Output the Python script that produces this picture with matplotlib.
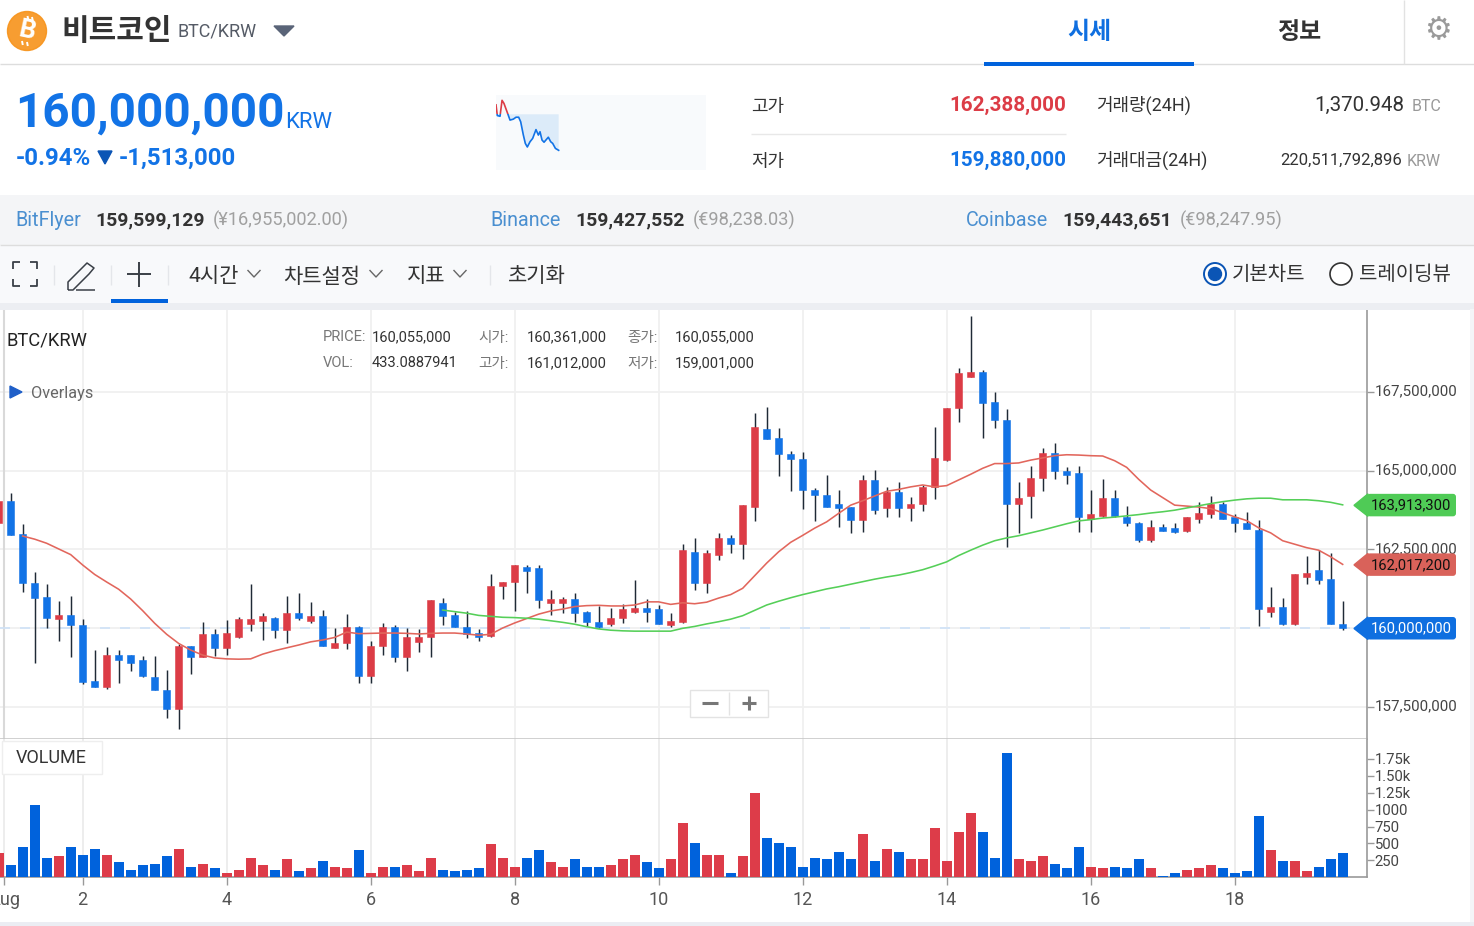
import matplotlib
matplotlib.use("Agg")
import matplotlib.pyplot as plt
from matplotlib.patches import Rectangle, Circle, Polygon, FancyBboxPatch
from matplotlib.transforms import ScaledTranslation

plt.rcParams['font.family'] = ['Roboto', 'Noto Sans CJK KR', 'DejaVu Sans']

# ---------- data (millions of KRW, 4h candles) ----------
opens = [163.32,164.04,162.98,161.42,160.98,160.28,160.41,160.09,158.32,158.13,159.13,159.13,158.98,158.45,158.03,157.42,159.42,159.09,159.80,159.37,
159.70,160.14,160.22,160.32,159.95,160.47,160.22,160.37,159.37,159.51,160.03,158.47,159.42,160.03,159.09,159.57,159.70,160.79,160.41,160.03,
159.83,159.74,161.32,161.46,161.94,161.90,160.79,160.79,160.93,160.51,160.18,160.13,160.32,160.51,160.64,160.60,160.09,160.18,162.41,161.42,
162.33,162.85,162.66,163.85,166.32,166.03,165.51,165.37,164.37,164.22,163.94,163.84,163.42,164.70,163.80,164.32,163.80,163.94,164.47,165.32,
166.98,167.98,168.13,167.17,166.60,163.95,164.18,164.75,165.55,164.98,164.93,163.46,163.56,164.13,163.51,163.32,162.79,163.22,163.17,163.08,
163.46,163.61,163.94,163.51,163.32,163.12,160.52,160.66,160.13,161.61,161.84,161.56,160.13]
highs = [164.04,164.30,163.30,161.77,161.39,160.87,161.01,160.29,159.30,159.39,159.30,159.14,159.10,159.10,158.67,159.49,159.42,160.20,159.97,160.24,
160.35,161.39,160.49,160.34,161.01,161.10,160.82,160.57,160.01,160.43,160.06,159.58,160.15,160.10,160.01,159.96,160.89,160.96,160.51,160.54,
159.97,161.72,161.47,162.00,162.01,162.01,161.20,160.97,161.10,160.54,160.71,160.63,160.77,161.53,160.91,160.72,160.49,162.67,162.86,162.48,
163.01,162.95,163.90,166.82,167.02,166.34,165.63,165.58,164.43,164.87,164.38,163.85,164.86,165.01,164.47,164.63,164.15,164.54,166.39,166.98,
168.24,169.91,168.19,167.48,166.95,164.63,165.14,165.72,165.86,165.10,165.14,164.38,164.72,164.38,163.86,163.37,163.43,163.29,163.34,163.51,
164.01,164.19,164.01,163.62,163.67,163.43,161.29,160.95,161.70,162.29,162.48,162.39,160.86]
lows = [163.32,162.95,161.15,158.88,160.01,159.59,159.07,158.21,158.13,158.05,158.24,158.63,158.45,158.03,157.15,156.78,158.54,159.07,159.11,159.15,
159.67,159.91,159.63,159.67,159.53,160.25,160.17,159.42,159.37,159.34,158.26,158.26,159.15,158.91,158.63,159.25,159.07,160.10,160.03,159.68,
159.59,159.72,160.91,160.54,161.11,160.63,160.40,160.49,160.20,160.06,160.00,160.06,160.16,160.49,160.20,160.13,160.04,160.17,161.21,161.11,
162.16,162.39,162.20,163.40,165.99,164.83,164.35,163.78,163.40,163.85,163.21,163.02,163.06,163.63,163.53,163.53,163.40,163.72,164.10,165.30,
166.54,167.98,166.02,166.35,162.58,163.02,163.49,164.35,164.73,164.58,163.06,163.06,163.53,163.53,163.25,162.74,162.73,163.08,163.02,163.06,
163.34,163.48,163.46,163.06,163.13,160.06,160.35,160.10,160.10,161.40,161.40,160.13,159.93]
closes = [164.04,162.95,161.43,160.94,160.33,160.41,160.09,158.28,158.13,159.13,158.98,158.90,158.47,158.03,157.42,159.42,159.09,159.80,159.37,159.84,
160.28,160.28,160.37,159.95,160.47,160.32,160.37,159.42,159.51,160.03,158.47,159.42,160.03,159.09,159.70,159.70,160.89,160.37,160.03,159.81,
159.71,161.32,161.46,161.99,161.80,160.90,160.93,160.93,160.47,160.18,160.02,160.32,160.60,160.64,160.51,160.13,160.22,162.47,161.42,162.37,
162.85,162.66,163.90,166.37,165.99,165.51,165.37,164.37,164.22,163.85,163.80,163.42,164.70,163.76,164.32,163.80,163.94,164.47,165.41,166.98,
168.09,168.13,167.13,166.61,163.95,164.13,164.75,165.55,164.98,164.85,163.52,163.61,164.13,163.56,163.32,162.79,163.22,163.08,163.04,163.51,
163.65,163.94,163.46,163.32,163.13,160.61,160.66,160.13,161.70,161.75,161.51,160.14,160.00]
volumes = [355,177,444,1065,286,310,444,330,419,330,222,108,177,197,310,419,153,197,133,64,
108,286,177,108,266,89,133,242,153,133,399,64,153,153,177,89,286,108,89,108,
133,488,286,153,286,399,222,153,266,153,153,177,266,330,222,133,266,799,508,330,
330,64,310,1242,577,508,444,153,286,266,375,266,641,242,419,375,266,266,730,242,
666,951,666,286,1839,266,242,310,197,133,444,153,133,153,133,266,133,20,64,108,
133,177,133,64,89,907,399,242,242,89,153,266,355]
ma_short = [162.92,162.82,162.69,162.51,162.33,162.00,161.70,161.46,161.23,160.92,160.55,160.15,159.80,159.51,159.30,159.14,159.05,159.02,159.01,159.02,
159.17,159.28,159.37,159.46,159.56,159.62,159.70,159.87,159.82,159.83,159.84,159.84,159.83,159.81,159.83,159.84,159.84,159.81,159.77,159.80,
160.00,160.16,160.30,160.44,160.54,160.60,160.68,160.71,160.72,160.70,160.70,160.73,160.83,160.83,160.75,160.80,160.77,160.82,160.95,161.06,
161.26,161.66,162.06,162.42,162.72,162.94,163.17,163.37,163.64,163.90,164.04,164.19,164.34,164.40,164.48,164.54,164.48,164.52,164.70,164.88,
165.07,165.22,165.22,165.24,165.33,165.40,165.47,165.50,165.49,165.47,165.46,165.31,165.10,164.72,164.38,164.14,163.90,163.87,163.84,163.79,
163.66,163.53,163.41,163.18,163.02,162.77,162.66,162.55,162.47,162.26,162.02]
ma_long = [160.57,160.52,160.47,160.40,160.37,160.34,160.33,160.31,160.28,160.23,160.18,160.12,160.04,159.97,159.93,159.91,159.90,159.90,159.90,159.90,
159.99,160.05,160.13,160.20,160.28,160.39,160.56,160.73,160.85,160.96,161.06,161.15,161.24,161.31,161.39,161.47,161.55,161.62,161.68,161.76,
161.85,161.97,162.10,162.30,162.47,162.63,162.77,162.86,162.93,163.02,163.11,163.21,163.31,163.40,163.44,163.49,163.52,163.56,163.60,163.65,
163.69,163.74,163.81,163.88,163.95,164.01,164.06,164.10,164.12,164.12,164.07,164.07,164.07,164.04,163.99,163.91]
price_ticks = [157.5,160.0,162.5,165.0,167.5]
price_labels = ['157,500,000','','162,500,000','165,000,000','167,500,000']   # the 160M label sits under the last-price tag
vol_ticks = [250,500,750,1000,1250,1500,1750]
vol_labels = ['250','500','750','1000','1.25k','1.50k','1.75k']
day_ticks = [0.914,2,4,6,8,10,12,14,16,18]
day_labels = ['Aug','2','4','6','8','10','12','14','16','18']
spark_hours = [0,0.15,0.46,0.69,0.91,1.37,1.6,1.98,2.29,2.59,2.82,3.12,3.35,3.58,3.89,4.19,4.57,4.84,5.03,5.26,5.49,5.98,6.25,6.48,6.79,7.16]
spark_prices = [161.91,161.46,161.43,162.10,161.97,161.51,161.27,161.31,161.39,161.39,161.20,160.65,160.29,160.14,160.36,160.50,160.87,160.64,160.78,160.43,160.34,160.55,160.36,160.29,160.08,160.00]
spark_open = 161.513

BLUE = '#1273e6'; RED = '#dc3c46'; BBAR = '#0062dc'; RBAR = '#dd3c49'
W, H = 1474, 926
fig = plt.figure(figsize=(W/100, H/100), dpi=100, facecolor='white')

def pane(l, t, r, b, **kw):
    return fig.add_axes([l/W, 1-b/H, (r-l)/W, (b-t)/H], **kw)

days = [2 + (i - 7) / 6 for i in range(len(opens))]
day_of = lambda px: 2 + (px - 82.67) / 72

# ---------- price pane ----------
ax = pane(0, 310, 1367, 738.5)
ax.set_xlim(day_of(0), day_of(1367))
ax.set_ylim(160 + (628 - 738.5) / 31.5, 160 + (628 - 310) / 31.5)
cols = [RED if c >= o else BLUE for o, c in zip(opens, closes)]
ax.vlines(days, lows, highs, color='#1f2a36', lw=1.05, zorder=3)
ax.bar(days, [abs(c - o) for o, c in zip(opens, closes)], bottom=[min(o, c) for o, c in zip(opens, closes)],
       width=0.1, color=cols, edgecolor=cols, linewidth=0.4, zorder=4)
ax.plot(days[2:], ma_short, color='#e2665c', lw=1.15, zorder=5)
ax.plot(days[37:], ma_long, color='#55cf58', lw=1.15, zorder=5)
ax.axhline(closes[-1], color='#cfe2f8', lw=1.2, ls=(0, (6, 6)), zorder=2)
ax.set_yticks(price_ticks)
ax.set_yticklabels(price_labels)
ax.set_xticks(day_ticks)
ax.tick_params(axis='x', length=0, labelbottom=False)
ax.yaxis.tick_right()
ax.tick_params(axis='y', length=5, width=1, color='#999999', labelcolor='#444444', labelsize=10.9, pad=0.8)
for lab in ax.get_yticklabels():
    lab.set_transform(lab.get_transform() + ScaledTranslation(0, 1.7 / 72 * 0.72, fig.dpi_scale_trans))
ax.grid(True, color='#f0f0f0', lw=1.3, zorder=0)
ax.set_axisbelow(True)
for s in ['top', 'left']:
    ax.spines[s].set_visible(False)
ax.spines['right'].set_color('#9a9a9a'); ax.spines['right'].set_linewidth(1.2)
ax.spines['bottom'].set_color('#c8c8c8'); ax.spines['bottom'].set_linewidth(1.2)
ax.axvline(day_ticks[0], color='#d9d9d9', lw=1.5, zorder=1)

# ---------- volume pane ----------
av = pane(0, 739, 1367, 877.3)
av.set_xlim(ax.get_xlim())
av.set_ylim(0, 138.3 * 14.79)
av.bar(days, volumes, width=0.14, color=[RBAR if c == RED else BBAR for c in cols], zorder=3)
av.set_yticks(vol_ticks); av.set_yticklabels(vol_labels)
av.yaxis.tick_right()
av.tick_params(axis='y', length=5, width=1, color='#999999', labelcolor='#444444', labelsize=10.7, pad=0.5)
av.set_xticks(day_ticks); av.set_xticklabels(day_labels)
av.tick_params(axis='x', length=6, width=1, color='#999999', labelcolor='#555555', labelsize=13, pad=4)
av.grid(True, axis='x', color='#ececec', lw=1.3, zorder=0)
av.set_axisbelow(True)
for s in ['top', 'left']:
    av.spines[s].set_visible(False)
av.spines['right'].set_color('#9a9a9a'); av.spines['right'].set_linewidth(1.2)
av.spines['bottom'].set_color('#9a9a9a'); av.spines['bottom'].set_linewidth(1.2)

# ---------- overlay in pixels ----------
ov = fig.add_axes([0, 0, 1, 1], zorder=10)
ov.set_xlim(0, W); ov.set_ylim(H, 0); ov.axis('off'); ov.patch.set_alpha(0)

def T(x, y, s, px, color='#333333', ha='left', weight='normal', **kw):
    hangul = any('\uac00' <= ch <= '\ud7a3' for ch in s)
    y = y + px * (0.14 if hangul else 0.05)
    return ov.text(x, y, s, fontsize=px * 0.72, color=color, ha=ha, va='center', fontweight=weight, **kw)
def R(x, y, w, h, color, **kw):
    ov.add_patch(Rectangle((x, y), w, h, facecolor=color, edgecolor='none', **kw))
def L(xs, ys, color='#444444', lw=1.2, **kw):
    ov.plot(xs, ys, color=color, lw=lw, solid_capstyle='butt', **kw)

# backgrounds
R(0, 195, W, 50, '#f4f5f7')
R(0, 246, W, 57, '#f8f9fb')
R(0, 303, W, 6.5, '#eceef2')
R(0, 922, W, 4, '#ebedf3')
R(1470, 309, 4, 613, '#f4f5f8')
L([0, W], [64, 64], '#dddddd', 1)
L([0, W], [245, 245], '#dddddd', 1)
L([1404.5, 1404.5], [0, 64], '#e2e2e2', 1)

# header
ov.add_patch(Circle((27, 31), 19.5, color='#f7931a', alpha=0.9))
T(27, 30, 'B', 26, 'white', ha='center', weight='bold', rotation=-12)
for dx, dy in [(0.5, -13), (5, -12), (-5, 12), (0, 13)]:
    L([27 + dx, 27 + dx + 0.8], [31 + dy - 2, 31 + dy + 2], 'white', 1.4)
T(61, 28, '비트코인', 30, '#333333', weight='bold')
T(178, 30.5, 'BTC/KRW', 18, '#555b66')
ov.add_patch(Polygon([(274, 26), (294, 26), (284, 36)], color='#5a6478'))
T(1089, 29, '시세', 24, '#0f6fe0', ha='center', weight='bold')
T(1299, 29, '정보', 24, '#333333', ha='center', weight='bold')
ov.add_patch(Rectangle((984, 62), 210, 4, facecolor=BBAR, edgecolor='none', zorder=5))
T(1438, 29, '\u2699', 31, '#9a9a9a', ha='center', family='DejaVu Sans')

# price summary
T(15, 111, '160,000,000', 47.6, BLUE, weight='bold')
T(285.5, 121, 'KRW', 22, BLUE)
T(16, 157, '-0.94%', 24, BLUE, weight='bold')
ov.add_patch(Polygon([(98, 151), (112, 151), (105, 164)], color='#0b55b5'))
T(119, 157, '-1,513,000', 24, BLUE, weight='bold')

# high/low table
T(751, 104, '고가', 18, '#333333')
T(1066, 104.5, '162,388,000', 20.7, RED, ha='right', weight='bold')
L([751, 1066], [133.5, 133.5], '#e8e8e8', 1)
T(751, 159, '저가', 18, '#333333')
T(1066, 159.5, '159,880,000', 20.7, BLUE, ha='right', weight='bold')
T(1096, 103, '거래량(24H)', 18, '#333333')
T(1404, 104, '1,370.948', 20.5, '#333333', ha='right')
T(1441, 105.5, 'BTC', 16, '#999999', ha='right')
T(1096, 158, '거래대금(24H)', 18, '#333333')
T(1402, 159.5, '220,511,792,896', 16.6, '#333333', ha='right')
T(1441, 160.5, 'KRW', 16, '#999999', ha='right')

# exchanges
for x0, x1, x2, name, price, local in [(15.5, 95.5, 213, 'BitFlyer', '159,599,129', '(¥16,955,002.00)'),
                                       (490.5, 575.5, 693, 'Binance', '159,427,552', '(€98,238.03)'),
                                       (966, 1062.5, 1180, 'Coinbase', '159,443,651', '(€98,247.95)')]:
    T(x0, 219.7, name, 19.8, '#4a8fd0')
    T(x1, 219.5, price, 19.4, '#333333', weight='bold')
    T(x2, 219.7, local, 18.3, '#a0a0a0')

# toolbar icons
C = '#3a3f47'
for x, y, dx, dy in [(13, 262, 1, 1), (37, 262, -1, 1), (13, 286, 1, -1), (37, 286, -1, -1)]:
    L([x, x, x + 7 * dx], [y + 7 * dy, y, y], C, 1.3)
L([68, 68, 87, 94, 89, 73, 68], [290, 282, 263, 268, 274, 290, 290], C, 1.1)
L([76, 95], [290, 290], C, 1.1)
L([127, 151], [274, 274], C, 1.4)
L([139, 139], [262, 287], C, 1.4)
R(111, 299, 57, 4, BBAR)
for x in [54.5, 111.5, 168.5, 490.5]:
    L([x, x], [265, 285], '#e4e6ea', 1)
T(188.5, 274, '4시간', 21, '#333333')
T(283.5, 274, '차트설정', 21, '#333333')
T(406.5, 274, '지표', 21, '#333333')
T(508, 274, '초기화', 21, '#333333')
for x in [254, 376, 460]:
    L([x - 6.5, x, x + 6.5], [270, 277, 270], '#666666', 1)
ov.add_patch(Circle((1215, 274), 11, facecolor='white', edgecolor='#0b55b5', lw=1.4))
ov.add_patch(Circle((1215, 274), 6.5, color='#0b55b5'))
T(1232, 272, '기본차트', 20, '#333333')
ov.add_patch(Circle((1341, 274), 11, facecolor='white', edgecolor='#333333', lw=1.2))
T(1359, 272, '트레이딩뷰', 20, '#333333')

# chart annotations
T(7, 339.5, 'BTC/KRW', 18.4, '#222222')
ov.add_patch(Polygon([(10, 386), (22, 392), (10, 398)], color='#1f5fc8'))
T(31, 392.5, 'Overlays', 16.3, '#666666')
for x, y, s, c in [(323, 336.5, 'PRICE:', '#777777'), (372, 336.5, '160,055,000', '#333333'),
                   (478, 335.5, '시가:', '#777777'), (527, 336.5, '160,361,000', '#333333'),
                   (627, 335.5, '종가:', '#777777'), (675, 336.5, '160,055,000', '#333333'),
                   (323, 362.5, 'VOL:', '#777777'), (372, 362.5, '433.0887941', '#333333'),
                   (478, 361.5, '고가:', '#777777'), (527, 362.5, '161,012,000', '#333333'),
                   (627, 361.5, '저가:', '#777777'), (675, 362.5, '159,001,000', '#333333')]:
    T(x, y, s, 14.6, c)

# zoom buttons
ov.add_patch(Rectangle((690, 690), 78, 27, facecolor='white', edgecolor='#e3e3e3', lw=1))
L([729.5, 729.5], [692, 715], '#e3e3e3', 1)
L([702, 718], [703, 703], '#777777', 2.2)
L([742, 756], [703, 703], '#777777', 2.2)
L([749, 749], [696, 710], '#777777', 2.2)

# VOLUME label
ov.add_patch(Rectangle((2, 741), 100, 33, facecolor='white', edgecolor='#eeeeee', lw=1))
T(16, 757.5, 'VOLUME', 18, '#333333')

# last-value tags
def tag(value, color):
    y = H - ax.transData.transform((0, value))[1]
    ov.add_patch(FancyBboxPatch((1367, y - 11), 89, 22.5, boxstyle='round,pad=0,rounding_size=3', facecolor=color, edgecolor='none', zorder=20))
    ov.add_patch(Polygon([(1354, y + 0.5), (1368, y - 11), (1368, y + 11.5)], color=color, zorder=20))
    return y
for v, s, col, tc in [(ma_long[-1], '163,913,300', '#4fcb56', '#111111'),
                      (ma_short[-1], '162,017,200', '#d9625a', '#111111'),
                      (closes[-1], '160,000,000', '#0f6fe0', 'white')]:
    y = tag(v, col)
    T(1411.5, y, s, 14.8, tc, ha='center', zorder=21)

# sparkline
sp = pane(496, 95, 706, 170, zorder=11)
sp.set_facecolor('#f8fafc')
sp.set_xlim(0, 24)
sp.set_ylim(spark_open - 55.7 / 23.8, spark_open + 19.3 / 23.8)
sp.fill_between(spark_hours, spark_prices, spark_open, where=[v <= spark_open for v in spark_prices],
                interpolate=True, color='#dcebf9', lw=0)
lb, = sp.plot(spark_hours, spark_prices, color=BLUE, lw=1.2)
lr, = sp.plot(spark_hours, spark_prices, color=RED, lw=1.2)
lb.set_clip_path(Rectangle((0, sp.get_ylim()[0]), 24, spark_open - sp.get_ylim()[0], transform=sp.transData))
lr.set_clip_path(Rectangle((0, spark_open), 24, sp.get_ylim()[1] - spark_open, transform=sp.transData))
sp.set_xticks([]); sp.set_yticks([])
for s in sp.spines.values():
    s.set_visible(False)

fig.savefig('out.png', dpi=100)
